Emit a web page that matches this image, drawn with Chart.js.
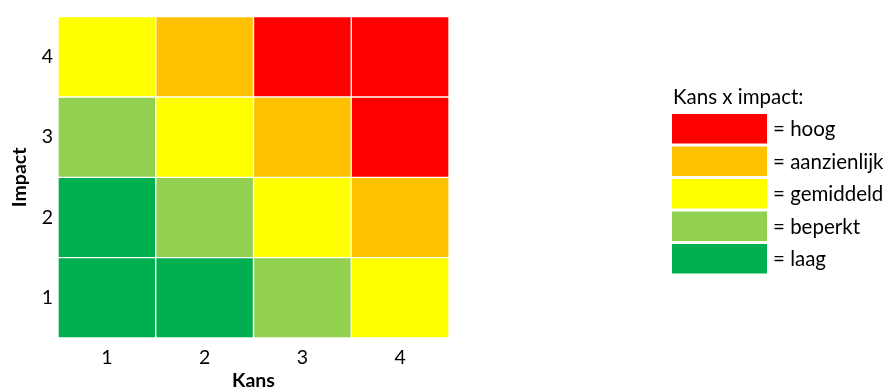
<!DOCTYPE html>
<html>
<head>
<meta charset="utf-8">
<script src="https://cdn.jsdelivr.net/npm/chart.js@4.4.1/dist/chart.umd.min.js"></script>
<style>
  html, body { margin: 0; padding: 0; background: #ffffff; }
  #wrap { width: 894px; height: 392px; }
</style>
</head>
<body>
<div id="wrap"><canvas id="risk" width="894" height="392"></canvas></div>
<script>
// Kans (x) and impact (y) categories
const kansLabels = ['1', '2', '3', '4'];
const impactLabels = ['1', '2', '3', '4'];

// Risk level per cell (1 = laag ... 5 = hoog), one row per impact, columns follow kans 1..4
const impact1Levels = [1, 1, 2, 3];
const impact2Levels = [1, 2, 3, 4];
const impact3Levels = [2, 3, 4, 5];
const impact4Levels = [3, 4, 5, 5];

// Legend: level names and colours, indexed by level - 1
const levelNames = ['laag', 'beperkt', 'gemiddeld', 'aanzienlijk', 'hoog'];
const levelColors = ['#00B050', '#92D050', '#FFFF00', '#FFC000', '#FF0000'];
const legendTitle = 'Kans x impact:';

const FONT = "Lato, 'Open Sans', 'Liberation Sans', sans-serif";

const rows = [impact1Levels, impact2Levels, impact3Levels, impact4Levels];

// Each impact row is one stacked dataset of unit-height cells
const datasets = rows.map((levels, i) => ({
  label: 'Impact ' + impactLabels[i],
  data: levels.map(() => 1),
  backgroundColor: levels.map(l => levelColors[l - 1]),
  borderColor: '#ffffff',
  borderWidth: 1,
  borderSkipped: false,
  barPercentage: 1,
  categoryPercentage: 1
}));

// Draws the colour key to the right of the matrix
const levelKey = {
  id: 'levelKey',
  afterDraw(chart) {
    const ctx = chart.ctx;
    const x = 672, boxW = 95, boxH = 29.5, step = 32.5, top = 114;
    ctx.save();
    ctx.font = '20.5px ' + FONT;
    ctx.fillStyle = '#000000';
    ctx.textBaseline = 'alphabetic';
    ctx.textAlign = 'left';
    ctx.fillText(legendTitle, x + 1, 104);
    ctx.textBaseline = 'middle';
    for (let i = 0; i < levelNames.length; i++) {
      const idx = levelNames.length - 1 - i;
      const y = top + i * step;
      ctx.fillStyle = levelColors[idx];
      ctx.fillRect(x, y, boxW, boxH);
      ctx.fillStyle = '#000000';
      ctx.fillText('= ' + levelNames[idx], x + boxW + 6, y + boxH / 2 + 1);
    }
    ctx.restore();
  }
};

new Chart(document.getElementById('risk'), {
  type: 'bar',
  data: { labels: kansLabels, datasets },
  plugins: [levelKey],
  options: {
    responsive: false,
    animation: false,
    events: [],
    layout: { padding: { left: 0, right: 445, top: 14, bottom: 0 } },
    plugins: { legend: { display: false }, tooltip: { enabled: false } },
    scales: {
      x: {
        stacked: true,
        grid: { display: false, drawTicks: false },
        border: { display: false },
        ticks: { color: '#000000', font: { family: FONT, size: 19.5 }, padding: 8 },
        title: { display: true, text: 'Kans', color: '#000000', font: { family: FONT, size: 19.5, weight: 'bold' }, padding: { top: 5, bottom: 0 } },
        afterFit(scale) { scale.height = 54; }
      },
      y: {
        stacked: true,
        min: 0,
        max: 4,
        grid: { display: false, drawTicks: false },
        border: { display: false },
        afterBuildTicks(scale) {
          scale.ticks = impactLabels.map((_, i) => ({ value: i + 0.5 }));
        },
        ticks: {
          color: '#000000',
          font: { family: FONT, size: 19.5 },
          padding: 5,
          callback(value) { return impactLabels[Math.floor(value)]; }
        },
        title: { display: true, text: 'Impact', color: '#000000', font: { family: FONT, size: 19.5, weight: 'bold' }, padding: { top: 8, bottom: 0 } },
        afterFit(scale) { scale.width = 58; }
      }
    }
  }
});
</script>
</body>
</html>
